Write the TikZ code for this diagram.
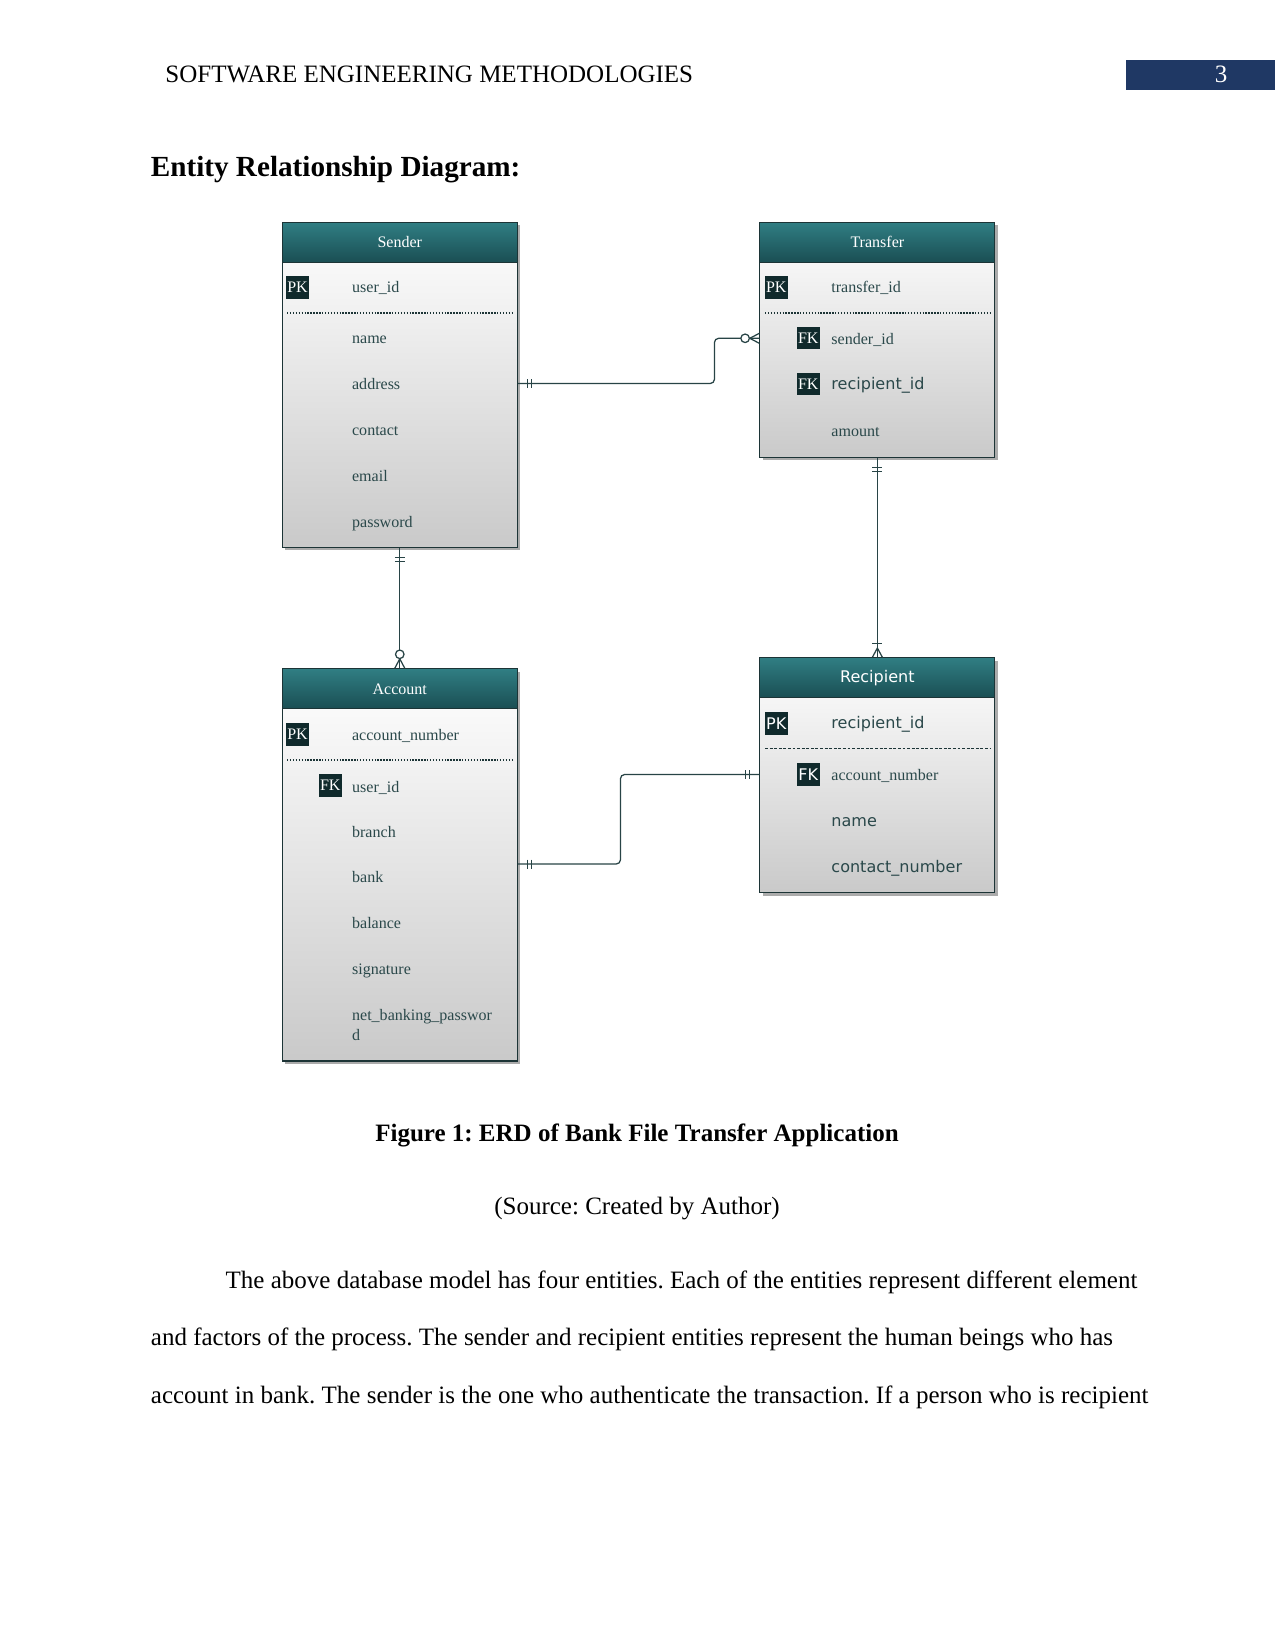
\documentclass[tikz,border=0pt]{standalone}
\usepackage{fontspec}
\setmainfont{Liberation Serif}
\newfontfamily\dvs{DejaVu Sans}
\usetikzlibrary{shadows,calc}
\definecolor{hdtop}{RGB}{48,126,131}
\definecolor{hdbot}{RGB}{26,78,83}
\definecolor{bordc}{RGB}{28,52,54}
\definecolor{attrc}{RGB}{42,72,74}
\definecolor{keyc}{RGB}{16,42,44}
\definecolor{linec}{RGB}{40,68,70}
\definecolor{bluebox}{RGB}{31,56,100}
\newcommand\dfs{\fontsize{7.7}{9.2}\selectfont}
\newcommand\twelve{\fontsize{12}{14}\selectfont}
\frenchspacing
\begin{document}
\begin{tikzpicture}[x=0.48pt,y=-0.48pt,
 entbody/.style={draw=bordc, line width=0.55pt, top color=white, bottom color=black!21, minimum width=112.8pt, anchor=north west, inner sep=0, drop shadow={shadow xshift=1.4pt, shadow yshift=-1.4pt, opacity=0.5, fill=black!65}},
 enthead/.style={draw=bordc, line width=0.55pt, top color=hdtop, bottom color=hdbot, minimum width=112.8pt, minimum height=19.2pt, anchor=north west, inner sep=0, text=white, font=\dfs},
 attr/.style={anchor=west, inner sep=0, text=attrc, font=\dfs, text height=5.6pt, text depth=1.6pt, yshift=-0.9pt},
 keyb/.style={fill=keyc, text=white, inner sep=0, minimum width=10.9pt, minimum height=10.6pt, font=\dfs},
 conn/.style={draw=linec, line width=0.6pt},
 sepd/.style={draw=bordc, line width=0.9pt, dash pattern=on 0.7pt off 0.7pt},
 sepf/.style={draw=bordc, line width=0.45pt, dash pattern=on 1.4pt off 0.8pt},
 txt/.style={inner sep=0, font=\twelve},
 ]
\useasboundingbox[fill=white] (0,0) rectangle (1275,1651);

% page header
\node[txt, anchor=base west] (hdr) at (165,83) {SOFTWARE ENGINEERING METHODOLOGIES};
\node[fill=bluebox, inner sep=0, minimum width=71.5pt, minimum height=14.4pt, anchor=north west] (pgbox) at (1126,60) {};
\node[txt, anchor=base, text=white] (pgnum) at (1221,83) {3};
\node[inner sep=0, anchor=base west, font=\fontsize{14}{16}\selectfont\bfseries] (ttl) at (150.5,177) {Entity Relationship Diagram:};

% Sender
\node[entbody, minimum height=156pt] (sender) at (281.7,221.7) {};
\node[enthead] (senderh) at (281.7,221.7) {Sender};
\node[keyb] (spk) at (297.5,287.5) {PK};
\node[attr] (suid) at (351.7,286.5) {user\_id};
\draw[sepd] (287,312.7) -- (512,312.7);
\node[attr] (sname) at (351.7,337) {name};
\node[attr] (saddr) at (351.7,383) {address};
\node[attr] (scont) at (351.7,429.5) {contact};
\node[attr] (semail) at (351.7,475) {email};
\node[attr] (spass) at (351.7,521) {password};

% Transfer
\node[entbody, minimum height=112.8pt] (transfer) at (759.3,221.7) {};
\node[enthead] (transferh) at (759.3,221.7) {Transfer};
\node[keyb] (tpk) at (776.3,287.5) {PK};
\node[attr] (ttid) at (831,286.5) {transfer\_id};
\draw[sepd] (765,312.7) -- (990,312.7);
\node[keyb] (tfk1) at (808.3,338.3) {FK};
\node[attr] (tsid) at (831,338) {sender\_id};
\node[keyb] (tfk2) at (808.3,384) {FK};
\node[attr, font=\dvs\dfs] (trid) at (831,383.3) {recipient\_id};
\node[attr] (tamt) at (831,430.6) {amount};

% Account
\node[entbody, minimum height=188.2pt] (account) at (281.7,668.3) {};
\node[enthead] (accounth) at (281.7,668.3) {Account};
\node[keyb] (apk) at (297.5,734.5) {PK};
\node[attr] (aacn) at (351.7,734.5) {account\_number};
\draw[sepd] (287,760) -- (512,760);
\node[keyb] (afk) at (330.3,785.5) {FK};
\node[attr] (auid) at (351.7,786) {user\_id};
\node[attr] (abr) at (351.7,831.5) {branch};
\node[attr] (abank) at (351.7,876.3) {bank};
\node[attr] (abal) at (351.7,922.5) {balance};
\node[attr] (asig) at (351.7,968.3) {signature};
\node[attr] (anbp) at (351.7,1014.5) {net\_banking\_passwor};
\node[attr] (anbp2) at (351.7,1034) {d};

% Recipient
\node[entbody, minimum height=112.8pt] (recipient) at (759.3,657.3) {};
\node[enthead, font=\dvs\dfs] (recipienth) at (759.3,657.3) {Recipient};
\node[keyb, font=\dvs\dfs] (rpk) at (776.3,723.5) {PK};
\node[attr, font=\dvs\dfs] (rrid) at (831,722.3) {recipient\_id};
\draw[sepf] (765,748.3) -- (990,748.3);
\node[keyb, font=\dvs\dfs] (rfk) at (808.3,774.5) {FK};
\node[attr] (racn) at (831,774.7) {account\_number};
\node[attr, font=\dvs\dfs] (rname) at (831,820) {name};
\node[attr, font=\dvs\dfs] (rcon) at (831,866) {contact\_number};

% connector Sender - Transfer
\coordinate (c1a) at (sender.east |- 0,383.5);
\coordinate (c1b) at (transfer.west |- tfk1);
\draw[conn, rounded corners=2pt] (c1a) -- ++(196.6,0) |- (c1b);
\draw[conn] (c1a) ++(9.3,-4.5) -- ++(0,9) (c1a) ++(13.3,-4.5) -- ++(0,9);
\draw[conn] (c1b) ++(-9.5,0) -- ++(9.5,-5) (c1b) ++(-9.5,0) -- ++(9.5,5);
\draw[conn, fill=white] (c1b) ++(-14.2,0) circle[radius=2.05pt];

% connector Transfer - Recipient
\coordinate (c2a) at (transfer.south);
\coordinate (c2b) at (recipient.north);
\draw[conn] (c2a) -- (c2b);
\draw[conn] (c2a) ++(-5,9.3) -- ++(10,0) (c2a) ++(-5,13.8) -- ++(10,0);
\draw[conn] (c2b) ++(-5,-14) -- ++(10,0);
\draw[conn] (c2b) ++(0,-9.3) -- ++(-5,9.3) (c2b) ++(0,-9.3) -- ++(5,9.3);

% connector Sender - Account
\coordinate (c3a) at (sender.south);
\coordinate (c3b) at (account.north);
\draw[conn] (c3a) -- (c3b);
\draw[conn] (c3a) ++(-5,9.3) -- ++(10,0) (c3a) ++(-5,13.3) -- ++(10,0);
\draw[conn] (c3b) ++(0,-9.5) -- ++(-5,9.5) (c3b) ++(0,-9.5) -- ++(5,9.5);
\draw[conn, fill=white] (c3b) ++(0,-14) circle[radius=2.05pt];

% connector Account - Recipient
\coordinate (c4a) at (account.east |- 0,864);
\coordinate (c4b) at (recipient.west |- rfk);
\draw[conn, rounded corners=2pt] (c4a) -- ++(102.6,0) |- (c4b);
\draw[conn] (c4a) ++(9.3,-4.5) -- ++(0,9) (c4a) ++(13.3,-4.5) -- ++(0,9);
\draw[conn] (c4b) ++(-9.6,-4.5) -- ++(0,9) (c4b) ++(-13.6,-4.5) -- ++(0,9);

% caption and body text
\node[txt, anchor=base, font=\twelve\bfseries] (cap) at (637,1141) {Figure 1: ERD of Bank File Transfer Application};
\node[txt, anchor=base] (src) at (637,1214) {(Source: Created by Author)};
\node[txt, anchor=base west] (l1) at (225.3,1288) {The above database model has four entities. Each of the entities represent different element};
\node[txt, anchor=base west] (l2) at (150.5,1345) {and factors of the process. The sender and recipient entities represent the human beings who has};
\node[txt, anchor=base west] (l3) at (150.5,1403) {account in bank. The sender is the one who authenticate the transaction. If a person who is recipient};
\end{tikzpicture}
\end{document}
